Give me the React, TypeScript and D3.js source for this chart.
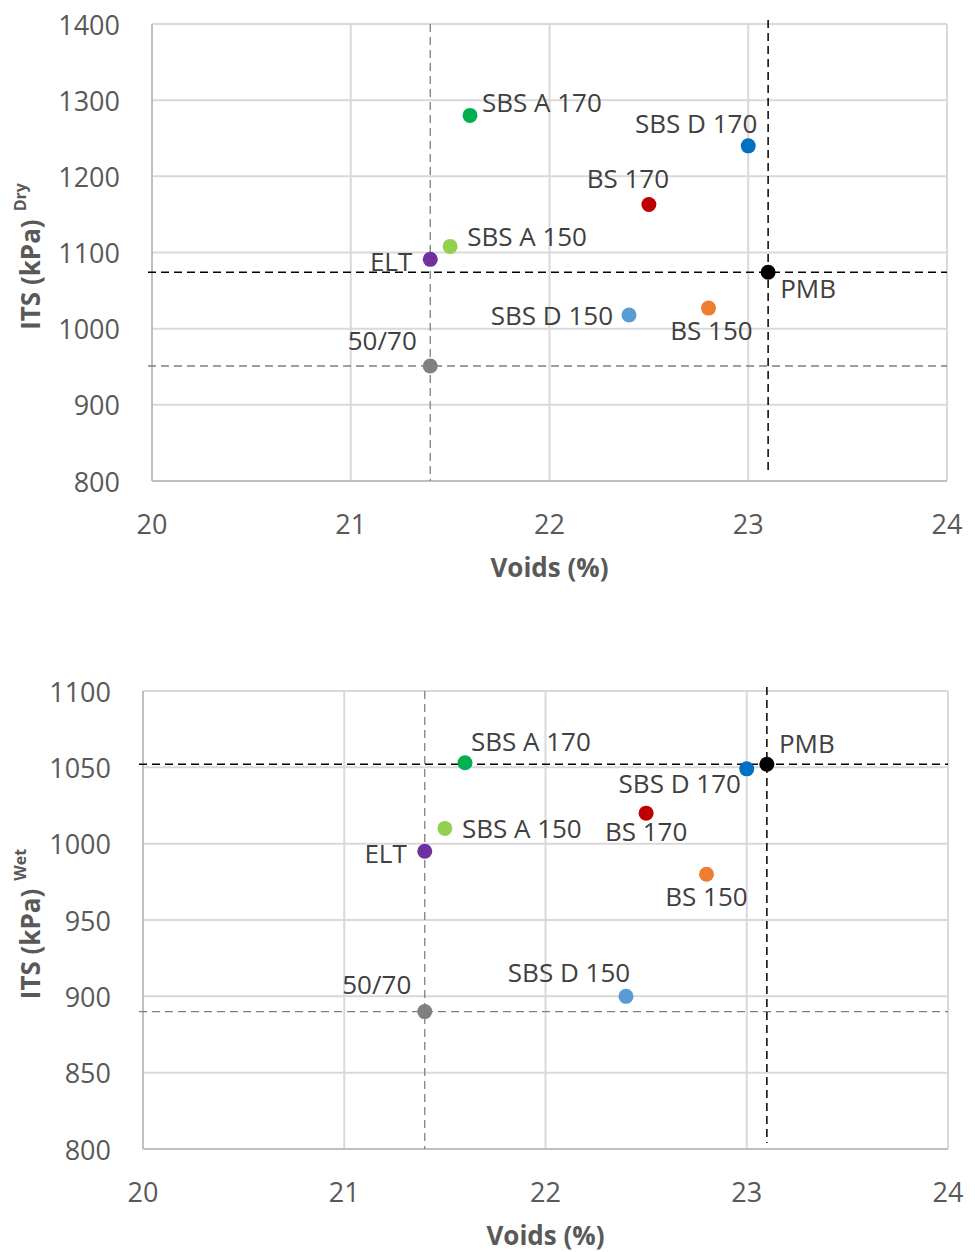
import React from "react";
import * as d3 from "d3";

// binder names, shared by both charts
const binders = ["SBS A 170", "SBS D 170", "BS 170", "SBS A 150", "ELT", "PMB", "SBS D 150", "BS 150", "50/70"];
const binderColors = ["#00b050", "#0070c0", "#c00000", "#92d050", "#7030a0", "#000000", "#5b9bd5", "#ed7d31", "#808080"];

// air voids (%)
const voids = [21.6, 23.0, 22.5, 21.5, 21.4, 23.1, 22.4, 22.8, 21.4];

// ITS dry and wet (kPa)
const itsDry = [1280, 1240, 1163, 1108, 1091, 1074, 1018, 1027, 951];
const itsWet = [1053, 1049, 1020, 1010, 995, 1052, 900, 980, 890];

const xTicks = [20, 21, 22, 23, 24];
const yTicksDry = [800, 900, 1000, 1100, 1200, 1300, 1400];
const yTicksWet = [800, 850, 900, 950, 1000, 1050, 1100];

// label placement: [anchor, dx, dy] relative to the marker
const dryLabelPos: [string, number, number][] = [
  ["start", 12, -13], ["end", 9, -23], ["middle", -21, -27], ["start", 17, -10], ["end", -18, 2],
  ["start", 12, 16], ["end", -16, 0], ["middle", 3, 22], ["middle", -48, -26],
];
const wetLabelPos: [string, number, number][] = [
  ["start", 6, -22], ["middle", -67, 14], ["middle", 0, 18], ["start", 17, 0], ["end", -18, 2],
  ["start", 12, -21], ["middle", -57, -24], ["middle", 0, 22], ["middle", -48, -28],
];

const FONT = "'Open Sans', 'Noto Sans', sans-serif";
const TXT = "#595959";

type ChartProps = {
  top: number; left: number; right: number; bottom: number;
  values: number[]; yTicks: number[]; labelPos: [string, number, number][];
  sup: string;
};

function Chart({ top, left, right, bottom, values, yTicks, labelPos, sup }: ChartProps) {
  const x = d3.scaleLinear().domain([20, 24]).range([left, right]);
  const y = d3.scaleLinear().domain(d3.extent(yTicks) as [number, number]).range([bottom, top]);
  const ref5070 = binders.indexOf("50/70");
  const refPmb = binders.indexOf("PMB");
  const midY = (top + bottom) / 2;

  return (
    <g>
      {/* gridlines */}
      {yTicks.map((t) => (
        <line key={"gy" + t} x1={left} x2={right} y1={y(t)} y2={y(t)} stroke="#d9d9d9" strokeWidth={2} />
      ))}
      {xTicks.map((t) => (
        <line key={"gx" + t} x1={x(t)} x2={x(t)} y1={top} y2={bottom} stroke="#d9d9d9" strokeWidth={2} />
      ))}
      {/* axes */}
      <line x1={left} x2={left} y1={top} y2={bottom} stroke="#bfbfbf" strokeWidth={2} />
      <line x1={left} x2={right} y1={bottom} y2={bottom} stroke="#bfbfbf" strokeWidth={2} />

      {/* reference lines */}
      <line x1={left - 4} x2={right} y1={y(values[ref5070])} y2={y(values[ref5070])}
        stroke="#7f7f7f" strokeWidth={1.3} strokeDasharray="8,5" />
      <line x1={x(voids[ref5070])} x2={x(voids[ref5070])} y1={top} y2={bottom}
        stroke="#7f7f7f" strokeWidth={1.3} strokeDasharray="8,5" />
      <line x1={left - 4} x2={right} y1={y(values[refPmb])} y2={y(values[refPmb])}
        stroke="#000" strokeWidth={1.5} strokeDasharray="8,5" />
      <line x1={x(voids[refPmb])} x2={x(voids[refPmb])} y1={top - 4} y2={bottom - 6}
        stroke="#000" strokeWidth={1.5} strokeDasharray="8,5" />

      {/* tick labels */}
      {yTicks.map((t) => (
        <text key={"ty" + t} x={left - 32} y={y(t)} textAnchor="end" dominantBaseline="central"
          fontFamily={FONT} fontSize={27} fill={TXT}>{t}</text>
      ))}
      {xTicks.map((t) => (
        <text key={"tx" + t} x={x(t)} y={bottom + 42} textAnchor="middle" dominantBaseline="central"
          fontFamily={FONT} fontSize={27} fill={TXT}>{t}</text>
      ))}

      {/* axis titles */}
      <text x={(left + right) / 2} y={bottom + 86} textAnchor="middle" dominantBaseline="central"
        fontFamily={FONT} fontSize={26} fontWeight="bold" fill={TXT}>Voids (%)</text>
      <text transform={`translate(30,${midY + 4}) rotate(-90)`} textAnchor="middle" dominantBaseline="central"
        fontFamily={FONT} fontSize={26} fontWeight="bold" fill={TXT}>
        ITS (kPa)<tspan fontSize={16} dy={-10} dx={8}>{sup}</tspan>
      </text>

      {/* points */}
      {binders.map((b, i) => (
        <circle key={"p" + b} cx={x(voids[i])} cy={y(values[i])} r={7.5} fill={binderColors[i]} />
      ))}
      {binders.map((b, i) => (
        <text key={"l" + b} x={x(voids[i]) + labelPos[i][1]} y={y(values[i]) + labelPos[i][2]}
          textAnchor={labelPos[i][0] as any} dominantBaseline="central"
          fontFamily={FONT} fontSize={26} fill="#404040">{b}</text>
      ))}
    </g>
  );
}

export default function App() {
  return (
    <svg width={975} height={1252} style={{ position: "absolute", left: 0, top: 0, background: "#fff" }}>
      <Chart top={24} left={152} right={947} bottom={481} values={itsDry} yTicks={yTicksDry}
        labelPos={dryLabelPos} sup="Dry" />
      <Chart top={691} left={143} right={948} bottom={1149} values={itsWet} yTicks={yTicksWet}
        labelPos={wetLabelPos} sup="Wet" />
    </svg>
  );
}
